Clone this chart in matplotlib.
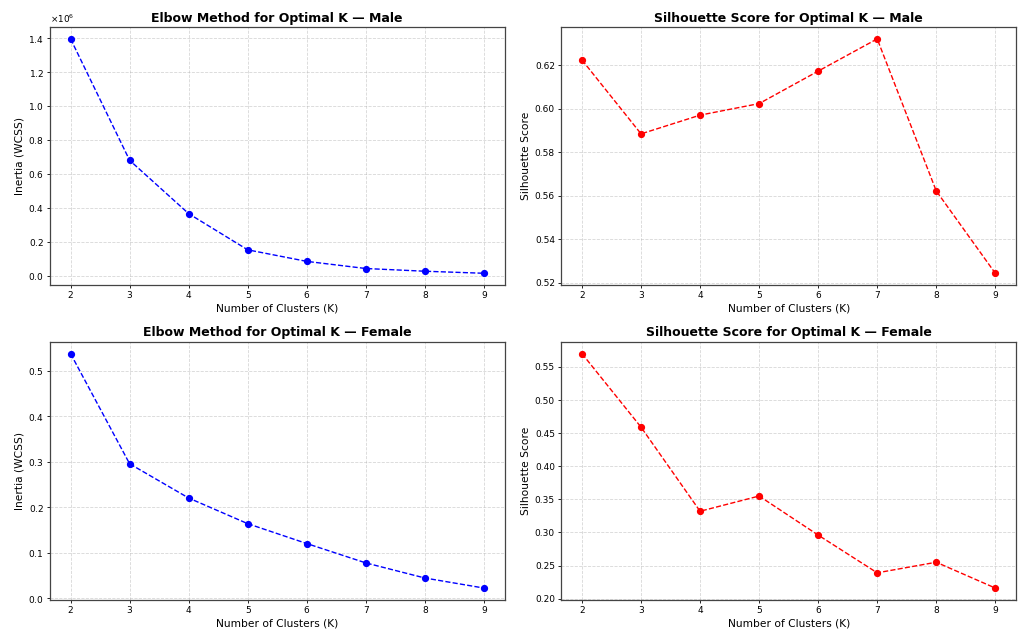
import matplotlib
matplotlib.use("Agg")
import matplotlib.pyplot as plt
from matplotlib.ticker import ScalarFormatter

k_values = [2, 3, 4, 5, 6, 7, 8, 9]

male_inertia = [1.395e6, 0.68e6, 0.366e6, 0.153e6, 0.085e6, 0.043e6, 0.027e6, 0.015e6]
male_silhouette = [0.6223, 0.5884, 0.5970, 0.6023, 0.6172, 0.6320, 0.5622, 0.5244]

female_inertia = [0.5376, 0.2954, 0.2201, 0.1637, 0.1200, 0.0774, 0.0442, 0.0221]
female_silhouette = [0.570, 0.4590, 0.3320, 0.3550, 0.2960, 0.2390, 0.2550, 0.2160]

fig, axes = plt.subplots(2, 2, figsize=(10.19, 6.32), dpi=100)
fig.subplots_adjust(left=0.049, right=0.997, top=0.957, bottom=0.051,
                    wspace=0.125, hspace=0.221)


def style(ax, title, ylabel):
    ax.set_title(title, fontsize=9, fontweight='bold', pad=4)
    ax.set_xlabel('Number of Clusters (K)', fontsize=7.7, labelpad=2.5)
    ax.set_ylabel(ylabel, fontsize=7.7, labelpad=2.5)
    ax.set_xticks(k_values)
    ax.tick_params(labelsize=6.5, length=2.3, width=0.6, pad=2.3)
    for s in ax.spines.values():
        s.set_linewidth(0.9)
        s.set_color('#444444')
    ax.grid(True, linestyle='--', alpha=0.5, linewidth=0.6)


def elbow(ax, values, title):
    ax.plot(k_values, values, marker='o', linestyle='--', color='blue', markersize=4.2, linewidth=1.0)
    style(ax, title, 'Inertia (WCSS)')
    fmt = ScalarFormatter(useMathText=True)
    ax.yaxis.set_major_formatter(fmt)
    ax.yaxis.get_offset_text().set_fontsize(6.4)


def silhouette(ax, values, title):
    ax.plot(k_values, values, marker='o', linestyle='--', color='red', markersize=4.2, linewidth=1.0)
    style(ax, title, 'Silhouette Score')


elbow(axes[0, 0], male_inertia, 'Elbow Method for Optimal K — Male')
silhouette(axes[0, 1], male_silhouette, 'Silhouette Score for Optimal K — Male')
elbow(axes[1, 0], female_inertia, 'Elbow Method for Optimal K — Female')
silhouette(axes[1, 1], female_silhouette, 'Silhouette Score for Optimal K — Female')

plt.savefig('out.png')
